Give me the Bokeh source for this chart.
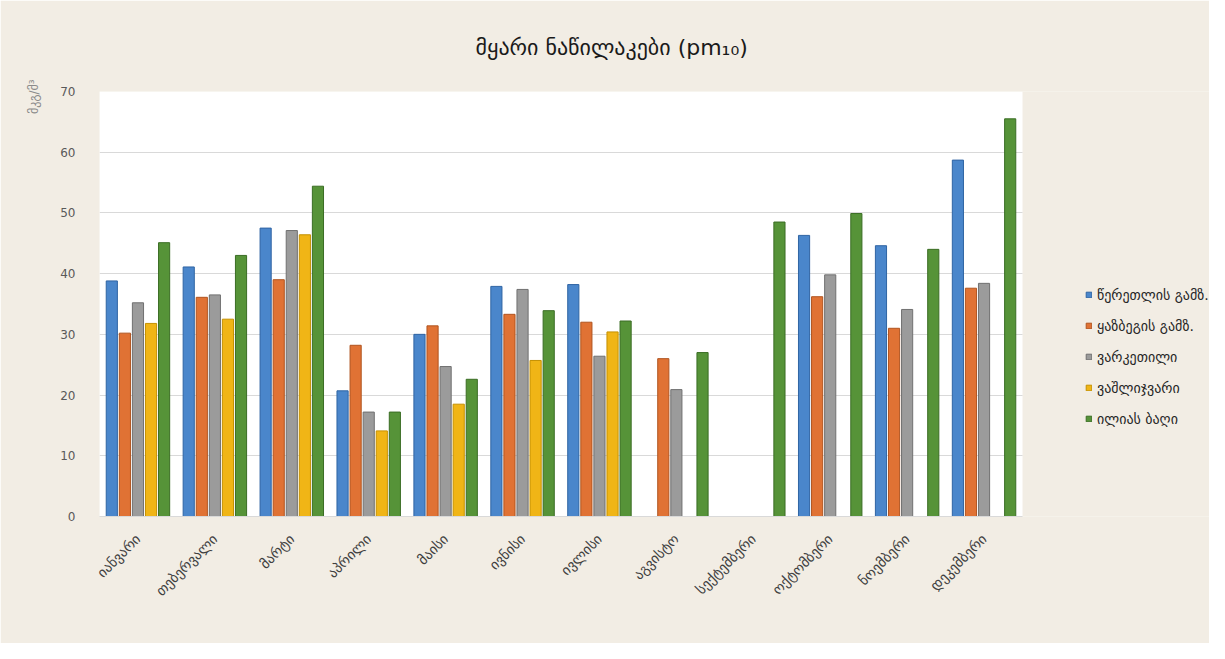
import math
import numpy as np
from bokeh.plotting import figure
from bokeh.models import (ColumnDataSource, Range1d, FixedTicker, Legend, LegendItem, Title,
                          BoxAnnotation)
from bokeh.transform import dodge
from bokeh.embed import file_html
from bokeh.resources import INLINE

months = ["იანვარი", "თებერვალი", "მარტი", "აპრილი", "მაისი", "ივნისი",
          "ივლისი", "აგვისტო", "სექტემბერი", "ოქტომბერი", "ნოემბერი", "დეკემბერი"]
series_names = ["წერეთლის გამზ.", "ყაზბეგის გამზ.", "ვარკეთილი", "ვაშლიჯვარი", "ილიას ბაღი"]
nan = float("nan")
tsereteli = [38.8, 41.1, 47.5, 20.7, 30.0, 37.9, 38.2, nan, nan, 46.3, 44.6, 58.7]
kazbegi   = [30.2, 36.1, 39.0, 28.2, 31.4, 33.3, 32.0, 26.0, nan, 36.2, 31.0, 37.6]
varketili = [35.2, 36.5, 47.1, 17.2, 24.7, 37.4, 26.4, 20.9, nan, 39.8, 34.1, 38.4]
vashlijvari = [31.8, 32.5, 46.4, 14.1, 18.5, 25.7, 30.4, nan, nan, nan, nan, nan]
ilias_baghi = [45.1, 43.0, 54.4, 17.2, 22.6, 33.9, 32.2, 27.0, 48.5, 49.9, 44.0, 65.5]
y_ticks = [0, 10, 20, 30, 40, 50, 60, 70]
title_text = "მყარი ნაწილაკები (pm₁₀)"
unit_text = "მკგ/მ³"

fills = ["#4a86cb", "#e07234", "#9b9b9b", "#f0b516", "#569338"]
lines = ["#2f64a3", "#b0541f", "#707070", "#c49000", "#3a6d24"]

n = len(months)
xc = [i + 0.5 for i in range(n)]
src = ColumnDataSource(dict(x=xc, s0=tsereteli, s1=kazbegi, s2=varketili,
                            s3=vashlijvari, s4=ilias_baghi))

bg = "#f2ede4"
W, H = 1209, 643
left_b, top_b, bottom_b = 99, 91, 127
plot_w = 923  # pixel width of the white plotting area
frame_w = W - left_b
x_end = n * frame_w / plot_w  # frame extends to the right to hold the legend

p = figure(width=W, height=H, output_backend="svg", toolbar_location=None,
           x_range=Range1d(0, x_end), y_range=Range1d(0, 70),
           min_border_left=left_b, min_border_right=0, min_border_top=top_b,
           min_border_bottom=bottom_b)
p.background_fill_color = bg
p.border_fill_color = bg
p.outline_line_color = None

# white plotting area
p.add_layout(BoxAnnotation(left=0, right=n, bottom=0, top=70, fill_color="white",
                           fill_alpha=1, line_color=None, level="image"))

# title
p.title.text = title_text
p.title.align = "left"
p.title.offset = 376
p.title.standoff = 64
p.title.text_font = "DejaVu Sans"
p.title.text_font_size = "22px"
p.title.text_font_style = "normal"
p.title.text_color = "#1a1a1a"

offsets = [-0.34, -0.17, 0.0, 0.17, 0.34]
renderers = []
for k in range(5):
    r = p.vbar(x=dodge("x", offsets[k]), top="s%d" % k, bottom=0, width=0.145, source=src,
               fill_color=fills[k], line_color=lines[k], line_width=1)
    renderers.append(r)

# axes / grid
p.xgrid.visible = False
p.ygrid.grid_line_color = "#d9d9d9"
p.ygrid.grid_line_width = 1
if "cross_bounds" in p.ygrid[0].properties():
    p.ygrid.cross_bounds = (0, n)
p.yaxis.ticker = FixedTicker(ticks=y_ticks)
p.yaxis.axis_line_color = None
p.yaxis.major_tick_line_color = None
p.yaxis.minor_tick_line_color = None
p.yaxis.major_label_text_font = "DejaVu Sans"
p.yaxis.major_label_text_font_size = "12px"
p.yaxis.major_label_text_color = "#595959"
p.yaxis.major_label_standoff = 18

p.xaxis.ticker = FixedTicker(ticks=xc)
p.xaxis.bounds = (0, n)
p.xaxis.major_label_overrides = {x: m for x, m in zip(xc, months)}
p.xaxis.major_label_orientation = math.pi / 4
p.xaxis.axis_line_color = "#d9d9d9"
p.xaxis.major_tick_line_color = None
p.xaxis.minor_tick_line_color = None
p.xaxis.major_label_text_font = "DejaVu Sans"
p.xaxis.major_label_text_font_size = "14px"
p.xaxis.major_label_text_color = "#404040"
p.xaxis.major_label_standoff = 14

# unit label on the left, at the top
p.add_layout(Title(text=unit_text, align="right", offset=-12, standoff=33,
                   text_font="DejaVu Sans", text_font_size="12px",
                   text_font_style="normal", text_color="#8a8a8a"), "left")

# legend (inside the extended frame, right of the white area)
legend = Legend(items=[LegendItem(label=s, renderers=[r]) for s, r in zip(series_names, renderers)],
                location=(986, 87), orientation="vertical",
                background_fill_alpha=0, border_line_color=None,
                label_text_font="DejaVu Sans", label_text_font_size="14px",
                label_text_color="#262626", glyph_width=7, glyph_height=7,
                label_height=21, spacing=10, padding=0, margin=0, label_standoff=5)
p.add_layout(legend, "center")

open("out.html", "w").write(file_html(p, INLINE))
